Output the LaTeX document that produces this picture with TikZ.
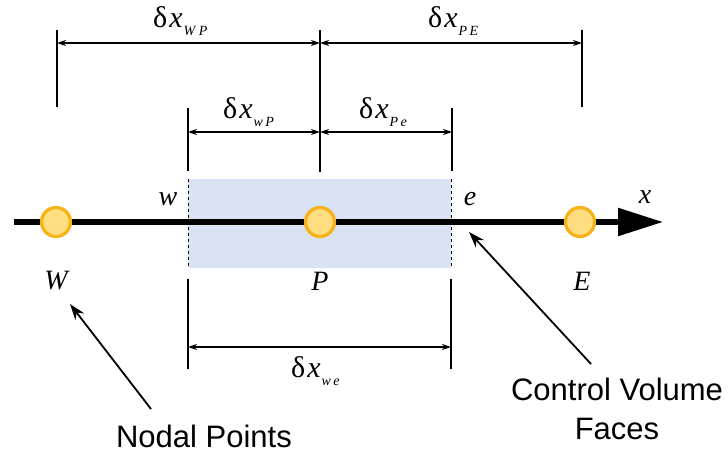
\documentclass[tikz,border=0pt]{standalone}
\usepackage{fontspec}
\setmainfont{Liberation Serif}
\newfontfamily\lblfont{Liberation Sans}
\usetikzlibrary{arrows.meta}
\definecolor{cvfill}{HTML}{DAE3F3}
\definecolor{nodeedge}{HTML}{F7B219}
\definecolor{nodefill}{HTML}{FFDD80}
\newcommand{\dlab}[2]{{\fontsize{30}{30}\selectfont δ\kern2pt\textit{x}\kern1pt\raisebox{-8pt}{\fontsize{14}{14}\selectfont\textit{#1}\kern2.5pt\textit{#2}}}}
\begin{document}
\begin{tikzpicture}[x=1pt,y=-1pt,
  vline/.style={line width=2.2pt},
  dimarrow/.style={line width=1.8pt,{Stealth[length=9pt,width=6pt]}-{Stealth[length=9pt,width=6pt]}},
  pointer/.style={line width=1.8pt,-{Stealth[length=16pt,width=11pt]}},
  nodept/.style={circle,draw=nodeedge,fill=nodefill,line width=3.2pt,minimum size=29pt,inner sep=0pt},
  mathlab/.style={font=\fontsize{28}{28}\selectfont\itshape,inner sep=0pt},
  dimlab/.style={inner sep=0pt,anchor=base west},
  txt/.style={font=\lblfont\fontsize{31}{39}\selectfont,align=center,inner sep=0pt}]
\useasboundingbox (0,0) rectangle (728,454);
% control volume
\fill[cvfill] (188,179) rectangle (451,268);
\draw[dashed,line width=1pt] (188,179) -- (188,268);
\draw[dashed,line width=1pt] (451,179) -- (451,268);
% coordinates
\coordinate (a0) at (14,222);
\coordinate (a1) at (663,222);
\coordinate (tW) at (57,30); \coordinate (bW) at (57,107);
\coordinate (tP) at (320,30); \coordinate (bP) at (320,172);
\coordinate (tE) at (582,30); \coordinate (bE) at (582,107);
\coordinate (tw) at (188,108); \coordinate (bw) at (188,171);
\coordinate (te) at (452,108); \coordinate (be) at (452,171);
\coordinate (lw) at (188,279); \coordinate (lw2) at (188,369);
\coordinate (le) at (451,279); \coordinate (le2) at (451,369);
% axis
\draw[line width=5.5pt,-{Triangle[length=45pt,width=27pt]}] (a0) -- (a1);
% nodes
\node[nodept] (W) at (56,222) {};
\node[nodept] (P) at (320,222) {};
\node[nodept] (E) at (580,222) {};
% vertical lines
\draw[vline] (tW) -- (bW);
\draw[vline] (tP) -- (bP);
\draw[vline] (tE) -- (bE);
\draw[vline] (tw) -- (bw);
\draw[vline] (te) -- (be);
\draw[vline] (lw) -- (lw2);
\draw[vline] (le) -- (le2);
% dimension arrows
\coordinate (d1a) at (57,43); \coordinate (d1b) at (320,43); \coordinate (d1c) at (582,43);
\draw[dimarrow] (d1a) -- (d1b);
\draw[dimarrow] (d1b) -- (d1c);
\coordinate (d2a) at (188,132); \coordinate (d2b) at (320,132); \coordinate (d2c) at (452,132);
\draw[dimarrow] (d2a) -- (d2b);
\draw[dimarrow] (d2b) -- (d2c);
\coordinate (d3a) at (188,347); \coordinate (d3b) at (451,347);
\draw[dimarrow] (d3a) -- (d3b);
% dimension labels
\node[dimlab] (lWP) at (153,28) {\dlab{W}{P}};
\node[dimlab] (lPE) at (428,28) {\dlab{P}{E}};
\node[dimlab] (lwP) at (223,119) {\dlab{w}{P}};
\node[dimlab] (lPe) at (359,119) {\dlab{P}{e}};
\node[dimlab] (lwe) at (291,377) {\dlab{w}{e}};
% letters
\node[mathlab] (lw) at (168,199) {w};
\node[mathlab] (le) at (470,199) {e};
\node[mathlab] (lx) at (645,197) {x};
\node[mathlab] (lW) at (56,281) {W};
\node[mathlab] (lP) at (320,281) {P};
\node[mathlab] (lE) at (582,281) {E};
% pointers
\node[txt,anchor=base] (np) at (204,447) {Nodal Points};
\node[txt] (cv) at (617,409) {Control Volume\\Faces};
\coordinate (npt) at (70,304);
\coordinate (npf) at (151,409);
\coordinate (cvt) at (469,232);
\coordinate (cvf) at (591,364);
\draw[pointer] (npf) -- (npt);
\draw[pointer] (cvf) -- (cvt);
\end{tikzpicture}
\end{document}
